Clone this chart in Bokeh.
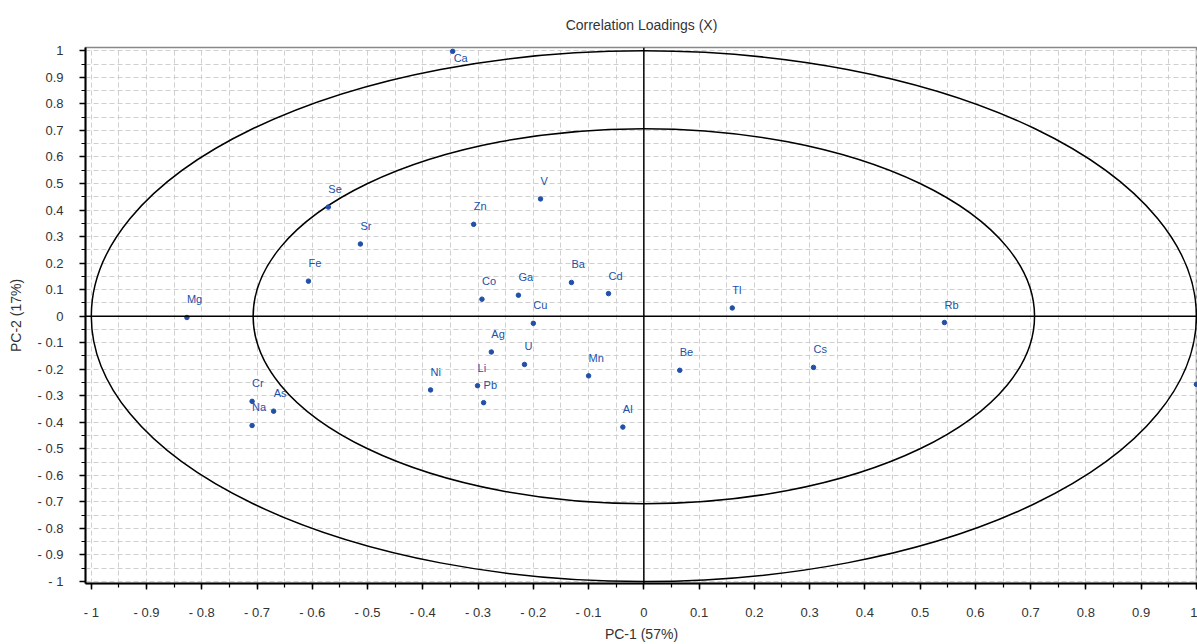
from bokeh.plotting import figure
from bokeh.models import (ColumnDataSource, Span, FixedTicker, CustomJSTickFormatter, Range1d)
from bokeh.core.properties import value
from bokeh.embed import file_html
from bokeh.resources import INLINE

# ---- data ----
elements = ["Ca", "V", "Zn", "Se", "Sr", "Fe", "Mg", "Cr", "As", "Na",
            "Co", "Ga", "Ba", "Cd", "Cu", "Ag", "U", "Mn", "Ni", "Li",
            "Pb", "Al", "Tl", "Be", "Rb", "Cs", "K"]
pc1 = [-0.346, -0.187, -0.308, -0.571, -0.513, -0.607, -0.827, -0.709, -0.670, -0.709,
       -0.293, -0.227, -0.131, -0.064, -0.200, -0.276, -0.216, -0.100, -0.386, -0.301,
       -0.290, -0.038, 0.160, 0.065, 0.544, 0.307, 1.0]
pc2 = [0.998, 0.442, 0.346, 0.411, 0.272, 0.132, -0.005, -0.321, -0.358, -0.412,
       0.064, 0.079, 0.127, 0.085, -0.027, -0.135, -0.182, -0.225, -0.278, -0.262,
       -0.326, -0.418, 0.031, -0.204, -0.024, -0.193, -0.257]

title = "Correlation Loadings (X)"
x_label = "PC-1 (57%)"
y_label = "PC-2 (17%)"
tick_values = [-1.0, -0.9, -0.8, -0.7, -0.6, -0.5, -0.4, -0.3, -0.2, -0.1, 0.0,
               0.1, 0.2, 0.3, 0.4, 0.5, 0.6, 0.7, 0.8, 0.9, 1.0]
tick_labels = ["- 1", "- 0.9", "- 0.8", "- 0.7", "- 0.6", "- 0.5", "- 0.4", "- 0.3", "- 0.2", "- 0.1", "0",
               "0.1", "0.2", "0.3", "0.4", "0.5", "0.6", "0.7", "0.8", "0.9", "1"]
minor_values = [round(-1.0 + 0.05 * i, 2) for i in range(41)]
circle_radii = [1.0, 0.5 ** 0.5]

FONT = "Liberation Sans"
BLUE = "#2150a8"

p = figure(width=1197, height=644, output_backend="svg", toolbar_location=None,
           x_range=Range1d(-1.0105, 1.002), y_range=Range1d(-1.0075, 1.0125),
           min_border_left=85, min_border_right=0, min_border_top=47, min_border_bottom=58,
           title=title)

p.title.align = "center"
p.title.text_font = FONT
p.title.text_font_size = "14px"
p.title.text_font_style = "normal"
p.title.text_color = "#333333"
p.title.offset = 0
p.title.standoff = 29

p.outline_line_color = "#888888"
p.outline_line_width = 1.5
p.background_fill_color = "white"
p.border_fill_color = "white"

fmt = CustomJSTickFormatter(args=dict(vals=tick_values, labs=tick_labels), code="""
let best = -1, bd = 1e9;
for (let i = 0; i < vals.length; i++) { const d = Math.abs(vals[i] - tick); if (d < bd) { bd = d; best = i; } }
return bd < 1e-6 ? labs[best] : "";
""")

for ax in (p.xaxis[0], p.yaxis[0]):
    ax.ticker = FixedTicker(ticks=tick_values, minor_ticks=minor_values)
    ax.formatter = fmt
    ax.axis_line_width = 2
    ax.axis_line_color = "black"
    ax.major_tick_line_color = "black"
    ax.major_tick_line_width = 1.5
    ax.minor_tick_line_color = "black"
    ax.minor_tick_line_width = 1.2
    ax.major_tick_out = 6
    ax.major_tick_in = 0
    ax.minor_tick_out = 4
    ax.minor_tick_in = 0
    ax.major_label_text_font = FONT
    ax.major_label_text_font_size = "13px"
    ax.major_label_text_color = "#333333"
    ax.axis_label_text_font = FONT
    ax.axis_label_text_font_size = "14px"
    ax.axis_label_text_font_style = "normal"
    ax.axis_label_text_color = "#333333"

p.xaxis.axis_label = x_label
p.yaxis.axis_label = y_label
p.xaxis.major_label_standoff = 15
p.yaxis.major_label_standoff = 16
p.xaxis.axis_label_standoff = 3
p.yaxis.axis_label_standoff = 10

for g in (p.xgrid[0], p.ygrid[0]):
    g.ticker = FixedTicker(ticks=minor_values)
    g.grid_line_color = "#cfcfcf"
    g.grid_line_dash = "5 3"
    g.grid_line_width = 1

# reference circles
for r in circle_radii:
    p.ellipse(x=0, y=0, width=2 * r, height=2 * r, fill_color=None,
              line_color="black", line_width=1.5)

p.add_layout(Span(location=0, dimension="width", line_color="black", line_width=1.5))
p.add_layout(Span(location=0, dimension="height", line_color="black", line_width=1.5))

src = ColumnDataSource(dict(
    x=pc1, y=pc2, name=elements,
    yoff=[6.5 if v > 0.95 else -18 for v in pc2],
    xoff=[1 if v > 0.95 else 0 for v in pc2],
))
p.scatter("x", "y", source=src, size=4.5, color=BLUE, line_color=BLUE)
p.text("x", "y", text="name", source=src, x_offset="xoff", y_offset="yoff",
       text_align="left", text_baseline="middle",
       text_font=value(FONT), text_font_size="11px", text_color=BLUE)

open("out.html", "w").write(file_html(p, INLINE))
